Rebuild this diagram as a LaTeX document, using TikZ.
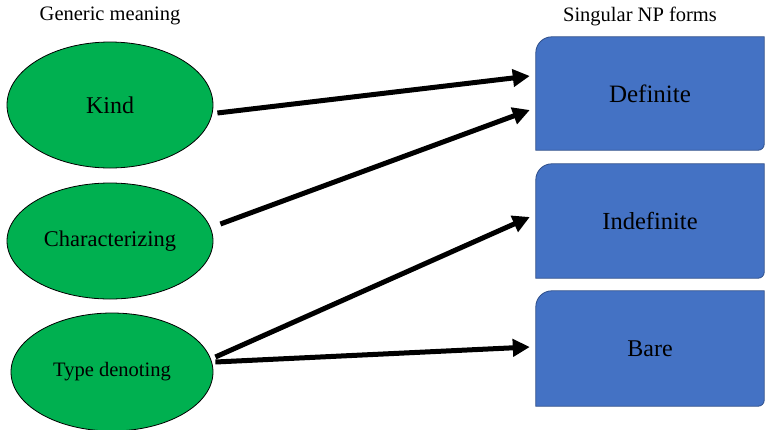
\documentclass[tikz,border=0pt]{standalone}
\usepackage{fontspec}
\setmainfont{Liberation Serif}
\usetikzlibrary{shapes.geometric,arrows.meta,calc}
\definecolor{ellgreen}{HTML}{00B050}
\definecolor{boxblue}{HTML}{4472C4}
\definecolor{boxline}{HTML}{2F4F8A}
\tikzset{
  ell/.style={ellipse, fill=ellgreen, draw=black, line width=0.8pt, inner sep=0pt},
  formbox/.style={rectangle, inner sep=0pt, minimum width=228pt},
  boxshape/.style={fill=boxblue, draw=boxline, line width=0.8pt},
  header/.style={font=\fontsize{20.5}{24}\selectfont},
  conn/.style={line width=5pt, -{Triangle[length=17pt,width=17pt]}},
}
\begin{document}
\begin{tikzpicture}[x=1pt,y=-1pt]
\useasboundingbox (0,0) rectangle (766,429);
% headers
\node[header] (h1) at (110,16) {Generic meaning};
\node[header] (h2) at (640,16) {Singular NP forms};
% ellipses
\node[ell, minimum width=206pt, minimum height=126pt, font=\fontsize{24}{28}\selectfont] (kind) at (110,105) {Kind};
\node[ell, minimum width=206pt, minimum height=116pt, font=\fontsize{22.5}{26}\selectfont] (char) at (110,241) {Characterizing};
\node[ell, minimum width=202pt, minimum height=118pt, font=\fontsize{20.5}{24}\selectfont] (type) at (112,372) {Type denoting};
% boxes
\node[formbox, minimum height=113pt] (def) at (650,93.5) {};
\node[formbox, minimum height=114pt] (indef) at (650,221) {};
\node[formbox, minimum height=115pt] (bare) at (650,348.5) {};
\foreach \b in {def,indef,bare}{
  \path[boxshape] (\b.south west) -- ($(\b.north west)+(0,16)$)
    arc[start angle=180, end angle=90, radius=16pt]
    -- (\b.north east) -- ($(\b.south east)+(0,-6)$)
    arc[start angle=0, end angle=-90, radius=6pt] -- cycle;
}
\node[font=\fontsize{25}{29}\selectfont] (tdef) at (def.center) {Definite};
\node[font=\fontsize{24.5}{29}\selectfont] (tindef) at (indef.center) {Indefinite};
\node[font=\fontsize{24}{28}\selectfont] (tbare) at (bare.center) {Bare};
% connectors
\draw[conn] ($(kind.east)+(4,8)$) -- ($(def.west)+(-6,-17.5)$);
\draw[conn] ($(char.east)+(7,-17)$) -- ($(def.west)+(-6,16.5)$);
\draw[conn] ($(type.east)+(2,-15)$) -- ($(indef.west)+(-6,-4)$);
\draw[conn] ($(type.east)+(2,-10)$) -- ($(bare.west)+(-6,-1.5)$);
\end{tikzpicture}
\end{document}
